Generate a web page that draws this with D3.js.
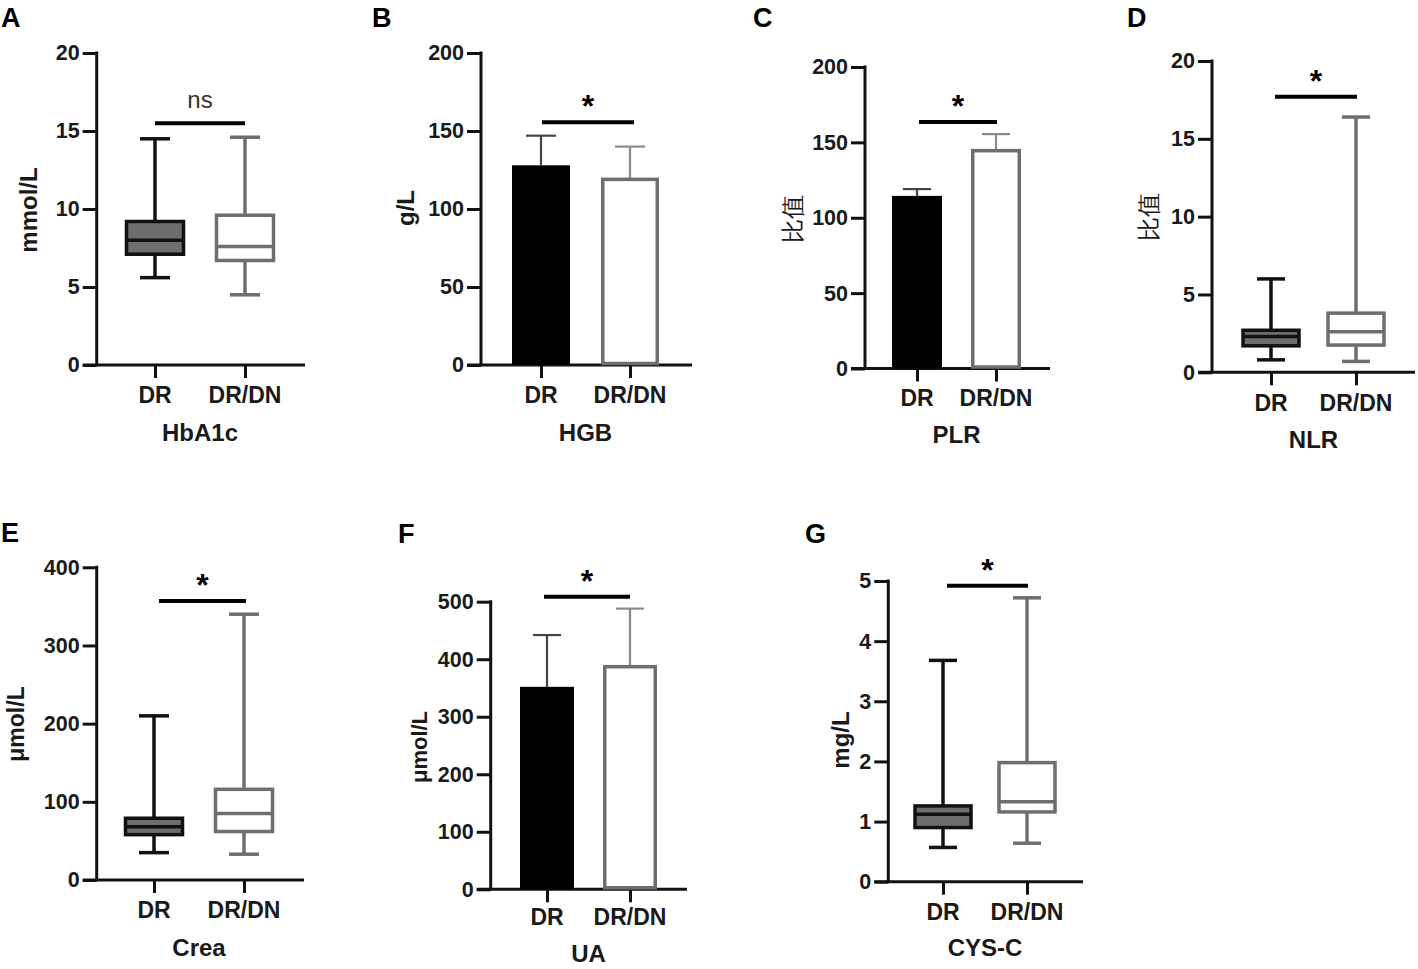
<!DOCTYPE html>
<html><head><meta charset="utf-8">
<script src="https://cdn.jsdelivr.net/npm/d3@7/dist/d3.min.js"></script>
<style>
html,body{margin:0;padding:0;background:#fff;}
svg{display:block;}
text{font-family:"Liberation Sans",Arial,sans-serif;}
</style></head>
<body>
<svg id="chart" width="1418" height="969"></svg>
<script>
// ---------------- DATA ----------------
const categories = ["DR", "DR/DN"];
// box plots: [min, q1, median, q3, max]
const hba1cDR = [5.6, 7.1, 8.0, 9.2, 14.5];
const hba1cDRDN = [4.5, 6.7, 7.6, 9.6, 14.6];
const nlrDR = [0.8, 1.7, 2.3, 2.7, 6.0];
const nlrDRDN = [0.7, 1.75, 2.6, 3.8, 16.4];
const creaDR = [35, 58, 68, 79, 210];
const creaDRDN = [33, 62, 85, 116, 340];
const cysDR = [0.57, 0.9, 1.12, 1.26, 3.68];
const cysDRDN = [0.64, 1.16, 1.33, 1.98, 4.72];
// bar charts: mean and SD
const hgbMean = [128, 119];
const hgbSD = [19, 21];
const plrMean = [114.5, 144.5];
const plrSD = [4.5, 11];
const uaMean = [352, 387];
const uaSD = [90, 101];
// axis ticks
const ticks20 = [0, 5, 10, 15, 20];
const ticks200 = [0, 50, 100, 150, 200];
const ticks400 = [0, 100, 200, 300, 400];
const ticks500 = [0, 100, 200, 300, 400, 500];
const ticks5 = [0, 1, 2, 3, 4, 5];
// significance
const sigLabels = ["ns", "*", "*", "*", "*", "*", "*"];
const sigValues = [15.5, 155.6, 163.5, 17.7, 357, 508.6, 4.92];
const titles = ["HbA1c", "HGB", "PLR", "NLR", "Crea", "UA", "CYS-C"];
const yLabels = ["mmol/L", "g/L", "比值", "比值", "μmol/L", "μmol/L", "mg/L"];
const letters = ["A", "B", "C", "D", "E", "F", "G"];

// ---------------- LAYOUT ----------------
const panels = [
  {type:"box", data:[hba1cDR, hba1cDRDN], ticks:ticks20, ax:96.7, yTop:53, yBot:365, xEnd:305, cats:[155,245], w:57, cap:30, sig:[155,245], lx:1, ly:17, ylx:28, yly:210, ylfs:24, catY:395, titleY:432},
  {type:"bar", mean:hgbMean, sd:hgbSD, ticks:ticks200, ax:481, yTop:53, yBot:365, xEnd:692, cats:[541,630], w:58, cap:30, sig:[542,634], lx:372, ly:17, ylx:405, yly:208, ylfs:24, catY:395, titleY:432},
  {type:"bar", mean:plrMean, sd:plrSD, ticks:ticks200, ax:865, yTop:67, yBot:368.5, xEnd:1050, cats:[917,996], w:50, cap:28, sig:[919,997], lx:753, ly:17, ylx:792, yly:219, ylfs:24, catY:398, titleY:434},
  {type:"box", data:[nlrDR, nlrDRDN], ticks:ticks20, ax:1212, yTop:61, yBot:372.3, xEnd:1415, cats:[1271,1356], w:56, cap:28, sig:[1275,1357], lx:1127, ly:17, ylx:1148, yly:217, ylfs:24, catY:403, titleY:439},
  {type:"box", data:[creaDR, creaDRDN], ticks:ticks400, ax:96.7, yTop:567.3, yBot:880, xEnd:304, cats:[154,244], w:57, cap:30, sig:[159,246], lx:1, ly:532, ylx:16, yly:724, ylfs:23, catY:910, titleY:947},
  {type:"bar", mean:uaMean, sd:uaSD, ticks:ticks500, ax:490.7, yTop:601.7, yBot:889.3, xEnd:687, cats:[547,630], w:54, cap:28, sig:[544,630], lx:398, ly:533, ylx:419, yly:747, ylfs:22, catY:917, titleY:953},
  {type:"box", data:[cysDR, cysDRDN], ticks:ticks5, ax:888.3, yTop:581, yBot:881.7, xEnd:1083, cats:[943,1027], w:56, cap:28, sig:[947,1028], lx:805, ly:533, ylx:840, yly:740, ylfs:24, catY:912, titleY:947}
];

const svg = d3.select("#chart");
const BLACK = "#111";
const GRAY = "#6e6e6e";
const TXT = "#1a1a1a";

panels.forEach((p, i) => {
  const g = svg.append("g");
  const y = d3.scaleLinear().domain([p.ticks[0], p.ticks[p.ticks.length-1]]).range([p.yBot, p.yTop]);
  const x = d3.scalePoint().domain(categories).range(p.cats);

  // panel letter
  g.append("text").attr("x", p.lx).attr("y", p.ly).attr("dy", "0.36em")
    .attr("font-size", 27).attr("font-weight", "bold").attr("fill", "#000").text(letters[i]);

  // y axis
  const yAxis = d3.axisLeft(y).tickValues(p.ticks).tickSize(14).tickPadding(3).tickFormat(d3.format("d"));
  const ya = g.append("g").attr("transform", `translate(${p.ax},0)`).call(yAxis);
  ya.select(".domain").attr("stroke", BLACK).attr("stroke-width", 3).attr("d", `M0,${p.yBot}V${p.yTop - 1.5}`);
  ya.selectAll(".tick line").attr("stroke", BLACK).attr("stroke-width", 3);
  ya.selectAll(".tick text").attr("font-size", 21.5).attr("font-weight", "bold").attr("fill", TXT)
    .attr("font-family", "Liberation Sans, Arial, sans-serif");

  // x axis
  const xAxis = d3.axisBottom(x).tickSize(13).tickFormat(() => "");
  const xa = g.append("g").attr("transform", `translate(0,${p.yBot})`).call(xAxis);
  xa.select(".domain").attr("stroke", BLACK).attr("stroke-width", 3).attr("d", `M${p.ax - 14},0H${p.xEnd}`);
  xa.selectAll(".tick line").attr("stroke", BLACK).attr("stroke-width", 3);

  // category labels
  g.selectAll(".cat").data(categories).enter().append("text")
    .attr("x", d => x(d)).attr("y", p.catY).attr("dy", "0.36em").attr("text-anchor", "middle")
    .attr("font-size", 23).attr("font-weight", "bold").attr("fill", TXT).text(d => d);

  // title
  g.append("text").attr("x", (p.cats[0] + p.cats[1]) / 2).attr("y", p.titleY).attr("dy", "0.36em")
    .attr("text-anchor", "middle").attr("font-size", 24).attr("font-weight", "bold").attr("fill", TXT).text(titles[i]);

  // y label
  const isCJK = /[\u4e00-\u9fff]/.test(yLabels[i]);
  g.append("text").attr("transform", `translate(${p.ylx},${p.yly}) rotate(-90)`)
    .attr("dy", "0.36em").attr("text-anchor", "middle")
    .attr("font-size", p.ylfs).attr("font-weight", isCJK ? "normal" : "bold")
    .attr("font-family", isCJK ? "Noto Sans CJK SC, sans-serif" : "Liberation Sans, Arial, sans-serif")
    .attr("fill", TXT).text(yLabels[i]);

  if (p.type === "box") {
    p.data.forEach((d, k) => {
      const cx = x(categories[k]);
      const col = k === 0 ? BLACK : GRAY;
      const fill = k === 0 ? GRAY : "#fff";
      const sw = 3.5;
      // whisker
      g.append("line").attr("x1", cx).attr("x2", cx).attr("y1", y(d[0])).attr("y2", y(d[4]))
        .attr("stroke", col).attr("stroke-width", sw);
      [d[0], d[4]].forEach(v => g.append("line").attr("x1", cx - p.cap/2).attr("x2", cx + p.cap/2)
        .attr("y1", y(v)).attr("y2", y(v)).attr("stroke", col).attr("stroke-width", sw));
      // box
      g.append("rect").attr("x", cx - p.w/2).attr("width", p.w)
        .attr("y", y(d[3])).attr("height", y(d[1]) - y(d[3]))
        .attr("fill", fill).attr("stroke", col).attr("stroke-width", sw);
      // median
      g.append("line").attr("x1", cx - p.w/2).attr("x2", cx + p.w/2).attr("y1", y(d[2])).attr("y2", y(d[2]))
        .attr("stroke", col).attr("stroke-width", sw);
    });
  } else {
    p.mean.forEach((m, k) => {
      const cx = x(categories[k]);
      const ecol = k === 0 ? "#444" : "#8a8a8a";
      const top = m + p.sd[k];
      g.append("line").attr("x1", cx).attr("x2", cx).attr("y1", y(m)).attr("y2", y(top))
        .attr("stroke", ecol).attr("stroke-width", 2.2);
      g.append("line").attr("x1", cx - p.cap/2).attr("x2", cx + p.cap/2).attr("y1", y(top)).attr("y2", y(top))
        .attr("stroke", ecol).attr("stroke-width", 2.2);
      if (k === 0) {
        g.append("rect").attr("x", cx - p.w/2).attr("width", p.w).attr("y", y(m)).attr("height", y(0) - y(m))
          .attr("fill", "#000");
      } else {
        g.append("rect").attr("x", cx - p.w/2 + 1.75).attr("width", p.w - 3.5).attr("y", y(m))
          .attr("height", y(0) - y(m) - 1.5)
          .attr("fill", "#fff").attr("stroke", GRAY).attr("stroke-width", 3.5);
      }
    });
  }

  // significance line
  const sy = y(sigValues[i]);
  g.append("line").attr("x1", p.sig[0]).attr("x2", p.sig[1]).attr("y1", sy).attr("y2", sy)
    .attr("stroke", "#000").attr("stroke-width", 4);
  const isNs = sigLabels[i] === "ns";
  g.append("text").attr("x", (p.sig[0] + p.sig[1]) / 2).attr("y", isNs ? sy - 15 : sy - 5)
    .attr("text-anchor", "middle").attr("font-size", isNs ? 24 : 32)
    .attr("font-weight", isNs ? "normal" : "bold").attr("fill", isNs ? "#333" : "#000")
    .text(sigLabels[i]);
});
</script>
</body></html>
